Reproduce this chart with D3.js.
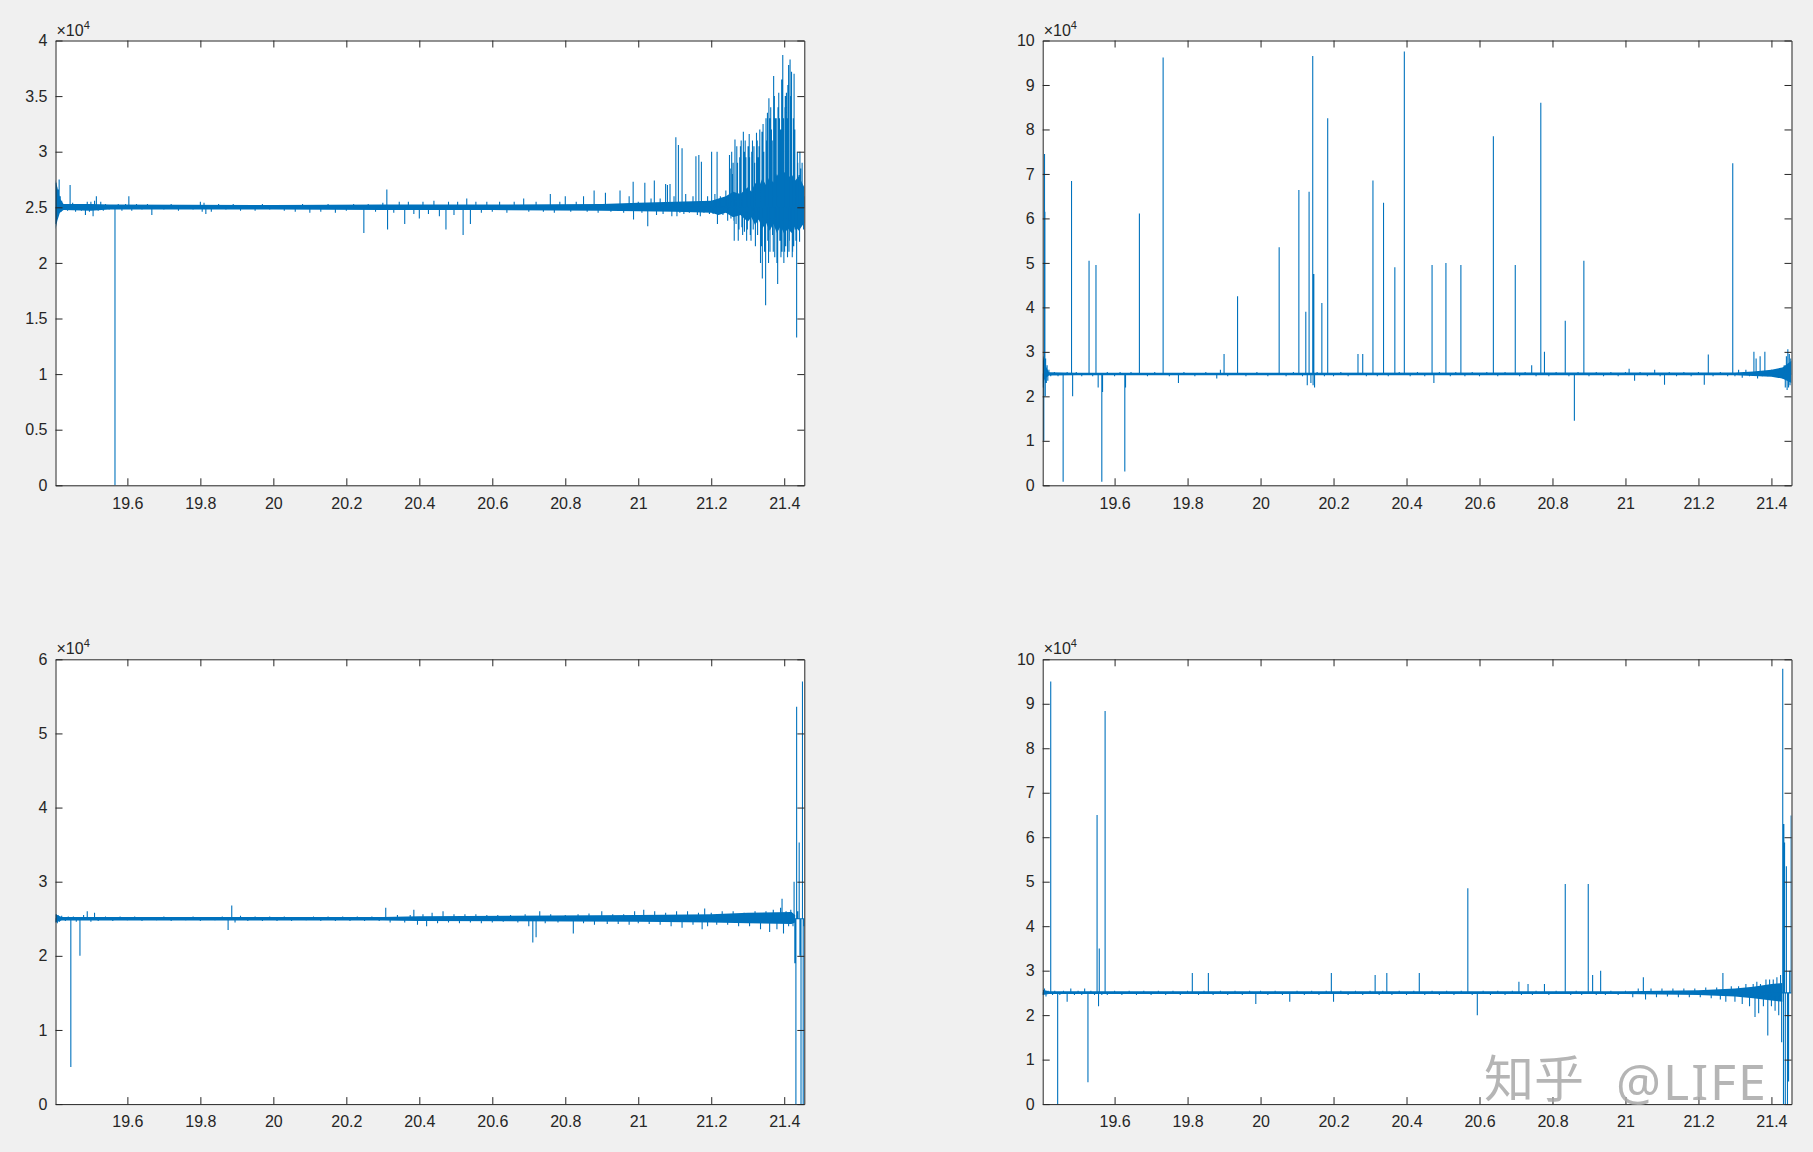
<!DOCTYPE html>
<html>
<head>
<meta charset="utf-8">
<script src="https://cdn.jsdelivr.net/npm/d3@7"></script>
<style>
  body { margin: 0; background: #f0f0f0; }
  svg { display: block; }
  .tick text { font-family: "Liberation Sans", Arial, sans-serif; font-size: 16px; fill: #262626; }
  .tick line, .domain { stroke: #262626; }
</style>
</head>
<body>
<svg id="fig" width="1813" height="1152"></svg>
<script>
// all signal values are in units of 10^4 (the axes show x10^4)
const xDomain = [19.403, 21.455];
const xTicks = [19.6, 19.8, 20, 20.2, 20.4, 20.6, 20.8, 21, 21.2, 21.4];
const baseline = 2.5;

const tlTicks = [0, 0.5, 1, 1.5, 2, 2.5, 3, 3.5, 4];
const trTicks = [0, 1, 2, 3, 4, 5, 6, 7, 8, 9, 10];
const blTicks = [0, 1, 2, 3, 4, 5, 6];
const brTicks = [0, 1, 2, 3, 4, 5, 6, 7, 8, 9, 10];

// noise envelope of the dense sampling: [time, low, high]
const tlBand = [
  [19.403, 2.3, 2.75], [19.408, 2.38, 2.68], [19.415, 2.45, 2.58], [19.425, 2.475, 2.53], [19.5, 2.47, 2.53],
  [19.55, 2.48, 2.525], [20.0, 2.48, 2.52], [20.3, 2.475, 2.525], [20.6, 2.475, 2.525], [20.9, 2.47, 2.53],
  [21.0, 2.465, 2.54], [21.1, 2.46, 2.55], [21.2, 2.45, 2.56], [21.22, 2.43, 2.58], [21.24, 2.45, 2.6],
  [21.26, 2.41, 2.64], [21.28, 2.43, 2.62], [21.3, 2.37, 2.68], [21.31, 2.41, 2.64], [21.32, 2.34, 2.72],
  [21.33, 2.39, 2.68], [21.34, 2.31, 2.76], [21.35, 2.36, 2.7], [21.36, 2.29, 2.78], [21.37, 2.35, 2.72],
  [21.38, 2.27, 2.8], [21.39, 2.33, 2.74], [21.4, 2.26, 2.82], [21.41, 2.31, 2.76], [21.42, 2.27, 2.8],
  [21.43, 2.33, 2.74], [21.44, 2.29, 2.78], [21.455, 2.36, 2.68]
];
const trBand = [
  [19.4035, 2.3, 2.9], [19.41, 2.4, 2.7], [19.42, 2.47, 2.54], [19.5, 2.475, 2.53], [21.3, 2.475, 2.535],
  [21.35, 2.46, 2.56], [21.4, 2.44, 2.6], [21.43, 2.4, 2.65], [21.455, 2.3, 2.8]
];
const blBand = [
  [19.403, 2.45, 2.56], [19.42, 2.475, 2.525], [20.3, 2.475, 2.525], [20.4, 2.47, 2.535], [21.0, 2.46, 2.55],
  [21.2, 2.45, 2.56], [21.3, 2.44, 2.58], [21.42, 2.43, 2.59], [21.43, 2.45, 2.55]
];
const brBand = [
  [19.403, 2.45, 2.57], [19.42, 2.475, 2.535], [21.0, 2.475, 2.535], [21.2, 2.45, 2.56], [21.3, 2.42, 2.6],
  [21.35, 2.38, 2.64], [21.4, 2.33, 2.7], [21.43, 2.3, 2.72]
];

// [time, value] extremes; signal sits at the baseline between them
const tlSpikes = [
  [19.403, 2.35], [19.404, 2.72], [19.405, 2.38], [19.406, 2.68], [19.407, 2.4], [19.408, 2.62], [19.409, 2.42],
  [19.41, 2.66], [19.411, 2.44], [19.413, 2.75], [19.414, 2.45], [19.416, 2.6], [19.418, 2.46], [19.42, 2.56],
  [19.428, 2.53], [19.436, 2.47], [19.443, 2.7], [19.45, 2.54], [19.458, 2.46], [19.466, 2.53], [19.474, 2.47],
  [19.485, 2.43], [19.49, 2.55], [19.496, 2.46], [19.5, 2.55], [19.506, 2.42], [19.51, 2.56], [19.515, 2.6],
  [19.52, 2.47], [19.527, 2.55], [19.534, 2.47], [19.54, 2.53], [19.55, 2.48], [19.566, 0], [19.575, 2.53],
  [19.585, 2.47], [19.595, 2.53], [19.604, 2.6], [19.612, 2.47], [19.625, 2.53], [19.64, 2.48], [19.655, 2.53],
  [19.667, 2.43], [19.68, 2.52], [19.7, 2.48], [19.72, 2.53], [19.74, 2.47], [19.76, 2.52], [19.78, 2.48],
  [19.8, 2.55], [19.805, 2.46], [19.81, 2.54], [19.815, 2.44], [19.83, 2.46], [19.85, 2.53], [19.87, 2.48],
  [19.89, 2.53], [19.91, 2.47], [19.93, 2.52], [19.95, 2.47], [19.97, 2.53], [19.99, 2.48], [20.0, 2.52],
  [20.03, 2.47], [20.06, 2.46], [20.08, 2.53], [20.1, 2.45], [20.13, 2.46], [20.15, 2.53], [20.17, 2.45],
  [20.2, 2.47], [20.22, 2.53], [20.248, 2.27], [20.26, 2.53], [20.28, 2.46], [20.3, 2.54], [20.311, 2.66],
  [20.313, 2.3], [20.33, 2.45], [20.345, 2.55], [20.36, 2.35], [20.37, 2.55], [20.385, 2.44], [20.4, 2.4],
  [20.41, 2.55], [20.425, 2.44], [20.44, 2.56], [20.455, 2.42], [20.473, 2.3], [20.48, 2.55], [20.495, 2.43],
  [20.505, 2.55], [20.52, 2.25], [20.53, 2.58], [20.54, 2.35], [20.555, 2.55], [20.57, 2.45], [20.585, 2.55],
  [20.6, 2.46], [20.62, 2.55], [20.64, 2.45], [20.66, 2.55], [20.686, 2.58], [20.7, 2.46], [20.72, 2.55],
  [20.74, 2.46], [20.759, 2.62], [20.77, 2.45], [20.785, 2.55], [20.8, 2.6], [20.815, 2.46], [20.83, 2.55],
  [20.85, 2.6], [20.86, 2.46], [20.879, 2.65], [20.89, 2.45], [20.91, 2.63], [20.925, 2.46], [20.95, 2.65],
  [20.96, 2.45], [20.975, 2.6], [20.986, 2.73], [20.987, 2.39], [21.0, 2.55], [21.01, 2.45], [21.018, 2.72],
  [21.026, 2.33], [21.035, 2.58], [21.044, 2.74], [21.05, 2.43], [21.06, 2.58], [21.068, 2.44], [21.075, 2.71],
  [21.08, 2.7], [21.087, 2.71], [21.092, 2.42], [21.098, 2.6], [21.103, 3.13], [21.106, 2.42], [21.11, 3.06],
  [21.114, 2.45], [21.12, 3.03], [21.125, 2.44], [21.13, 2.62], [21.14, 2.45], [21.15, 2.6], [21.158, 2.96],
  [21.162, 2.43], [21.166, 2.97], [21.17, 2.42], [21.173, 2.91], [21.18, 2.45], [21.19, 2.6], [21.195, 2.44],
  [21.201, 3.0], [21.205, 2.44], [21.21, 2.62], [21.216, 3.0], [21.217, 2.35], [21.225, 2.6], [21.232, 2.43],
  [21.24, 2.65], [21.245, 2.38], [21.25, 2.97], [21.254, 2.4], [21.258, 2.8], [21.262, 2.38], [21.265, 3.11],
  [21.268, 2.35], [21.272, 2.9], [21.276, 2.3], [21.28, 3.05], [21.284, 2.32], [21.288, 3.18], [21.291, 2.28],
  [21.295, 2.95], [21.299, 2.3], [21.304, 3.16], [21.307, 2.25], [21.311, 3.0], [21.315, 2.3], [21.319, 2.9],
  [21.324, 3.17], [21.327, 2.25], [21.331, 3.05], [21.335, 2.0], [21.339, 3.18], [21.34, 1.86], [21.344, 3.0],
  [21.349, 1.62], [21.352, 3.1], [21.355, 2.2], [21.358, 3.48], [21.361, 2.1], [21.365, 3.2], [21.368, 2.25],
  [21.371, 3.68], [21.374, 2.05], [21.378, 3.3], [21.382, 1.81], [21.385, 3.53], [21.388, 2.2], [21.39, 3.2],
  [21.393, 3.65], [21.394, 2.1], [21.396, 3.87], [21.399, 2.0], [21.402, 3.4], [21.404, 2.15], [21.406, 3.53],
  [21.409, 2.05], [21.412, 3.78], [21.414, 2.2], [21.416, 3.83], [21.418, 2.3], [21.42, 3.72], [21.423, 2.1],
  [21.426, 2.15], [21.427, 3.7], [21.43, 2.3], [21.434, 1.33], [21.437, 2.9], [21.441, 2.79], [21.442, 2.19],
  [21.445, 2.85], [21.447, 2.38], [21.45, 2.7], [21.453, 2.3], [21.455, 2.6],
  [21.252, 2.85], [21.256, 3.0], [21.26, 2.9], [21.263, 2.2], [21.27, 3.05], [21.274, 2.2], [21.278, 2.95],
  [21.282, 3.1], [21.286, 2.25], [21.29, 3.0], [21.293, 3.1], [21.297, 2.2], [21.301, 3.05], [21.305, 2.95],
  [21.309, 2.2], [21.313, 3.1], [21.317, 3.05], [21.321, 2.15], [21.326, 3.1], [21.329, 2.95], [21.333, 3.2],
  [21.337, 2.15], [21.342, 3.25], [21.346, 2.1], [21.35, 3.3], [21.354, 3.35], [21.357, 2.0], [21.36, 3.3],
  [21.363, 3.4], [21.367, 3.1], [21.37, 2.1], [21.373, 3.5], [21.376, 3.3], [21.38, 2.0], [21.383, 3.4],
  [21.387, 3.3], [21.391, 2.05], [21.395, 3.6], [21.398, 3.3], [21.401, 2.1], [21.403, 3.5], [21.407, 3.3],
  [21.41, 3.6], [21.413, 2.1], [21.417, 3.5], [21.419, 3.2], [21.422, 2.05], [21.425, 3.3], [21.429, 3.2],
  [21.432, 2.2], [21.436, 3.0], [21.439, 2.3], [21.443, 3.0], [21.446, 2.5], [21.449, 2.9], [21.452, 2.4]
];

const trSpikes = [
  [19.4035, 2.2], [19.405, 2.8], [19.406, 1.0], [19.407, 2.9], [19.408, 7.45], [19.409, 6.15], [19.41, 2.0],
  [19.411, 2.85], [19.413, 2.3], [19.415, 2.7], [19.417, 2.35], [19.42, 2.6], [19.425, 2.45], [19.435, 2.55],
  [19.445, 2.45], [19.459, 0.08], [19.47, 2.55], [19.482, 6.84], [19.485, 2.0], [19.495, 2.55], [19.51, 2.45],
  [19.53, 5.05], [19.54, 2.45], [19.549, 4.95], [19.555, 2.2], [19.565, 0.08], [19.567, 2.1], [19.58, 2.55],
  [19.6, 2.45], [19.615, 2.55], [19.628, 0.31], [19.63, 2.2], [19.645, 2.55], [19.668, 6.11], [19.69, 2.45],
  [19.71, 2.55], [19.733, 9.62], [19.75, 2.45], [19.775, 2.3], [19.79, 2.55], [19.82, 2.45], [19.85, 2.55],
  [19.88, 2.4], [19.89, 2.6], [19.9, 2.95], [19.91, 2.45], [19.937, 4.25], [19.96, 2.45], [19.99, 2.55],
  [20.02, 2.45], [20.051, 5.35], [20.07, 2.45], [20.09, 2.55], [20.105, 6.64], [20.115, 2.45], [20.124, 3.9],
  [20.128, 2.25], [20.133, 6.6], [20.138, 2.3], [20.143, 9.65], [20.144, 2.25], [20.146, 4.75], [20.148, 2.2],
  [20.155, 2.55], [20.168, 4.1], [20.175, 2.45], [20.184, 8.25], [20.2, 2.45], [20.22, 2.55], [20.24, 2.45],
  [20.267, 2.95], [20.28, 2.95], [20.29, 2.45], [20.308, 6.85], [20.32, 2.45], [20.337, 6.35], [20.35, 2.45],
  [20.368, 4.9], [20.38, 2.55], [20.394, 9.75], [20.41, 2.45], [20.43, 2.55], [20.45, 2.45], [20.47, 4.95],
  [20.475, 2.3], [20.49, 2.55], [20.508, 5.0], [20.52, 2.45], [20.535, 2.55], [20.549, 4.95], [20.56, 2.45],
  [20.58, 2.55], [20.6, 2.45], [20.62, 2.55], [20.638, 7.85], [20.65, 2.45], [20.67, 2.55], [20.698, 4.95],
  [20.71, 2.45], [20.725, 2.55], [20.743, 2.7], [20.755, 2.45], [20.768, 8.6], [20.778, 3.0], [20.79, 2.45],
  [20.81, 2.55], [20.835, 3.7], [20.845, 2.45], [20.86, 1.45], [20.87, 2.55], [20.886, 5.05], [20.9, 2.45],
  [20.92, 2.55], [20.94, 2.45], [20.96, 2.55], [20.98, 2.45], [21.0, 2.55], [21.01, 2.62], [21.025, 2.35],
  [21.04, 2.55], [21.06, 2.45], [21.08, 2.6], [21.095, 2.45], [21.107, 2.26], [21.12, 2.55], [21.14, 2.45],
  [21.16, 2.55], [21.18, 2.45], [21.2, 2.55], [21.216, 2.26], [21.227, 2.94], [21.24, 2.45], [21.26, 2.55],
  [21.28, 2.45], [21.294, 7.24], [21.3, 2.45], [21.31, 2.6], [21.32, 2.42], [21.33, 2.6], [21.34, 2.45],
  [21.352, 3.0], [21.358, 2.85], [21.362, 2.4], [21.369, 2.9], [21.375, 2.45], [21.382, 3.0], [21.39, 2.45],
  [21.4, 2.6], [21.41, 2.45], [21.42, 2.55], [21.43, 2.4], [21.435, 2.7], [21.438, 2.2], [21.441, 2.9],
  [21.443, 2.14], [21.445, 3.06], [21.447, 2.2], [21.449, 2.95], [21.451, 2.25], [21.453, 2.85]
];

const blSpikes = [
  [19.403, 2.45], [19.405, 2.56], [19.408, 2.44], [19.41, 2.55], [19.414, 2.46], [19.42, 2.54], [19.43, 2.47],
  [19.438, 2.53], [19.445, 0.5], [19.452, 2.53], [19.46, 2.46], [19.47, 2.0], [19.48, 2.55], [19.49, 2.6],
  [19.5, 2.46], [19.51, 2.58], [19.52, 2.47], [19.54, 2.53], [19.56, 2.47], [19.58, 2.53], [19.6, 2.48],
  [19.62, 2.53], [19.64, 2.47], [19.66, 2.52], [19.68, 2.48], [19.7, 2.53], [19.72, 2.47], [19.74, 2.52],
  [19.76, 2.48], [19.78, 2.53], [19.8, 2.47], [19.82, 2.52], [19.84, 2.48], [19.86, 2.53], [19.876, 2.35],
  [19.886, 2.68], [19.895, 2.45], [19.91, 2.54], [19.93, 2.47], [19.95, 2.53], [19.97, 2.47], [19.99, 2.53],
  [20.01, 2.47], [20.03, 2.53], [20.05, 2.47], [20.07, 2.52], [20.09, 2.48], [20.11, 2.53], [20.13, 2.47],
  [20.15, 2.53], [20.17, 2.47], [20.19, 2.53], [20.21, 2.47], [20.23, 2.53], [20.25, 2.47], [20.27, 2.53],
  [20.29, 2.47], [20.308, 2.65], [20.32, 2.45], [20.34, 2.55], [20.36, 2.45], [20.375, 2.55], [20.385, 2.62],
  [20.395, 2.42], [20.41, 2.56], [20.42, 2.4], [20.435, 2.58], [20.45, 2.44], [20.465, 2.6], [20.48, 2.45],
  [20.495, 2.56], [20.51, 2.44], [20.525, 2.56], [20.54, 2.45], [20.555, 2.56], [20.57, 2.44], [20.585, 2.55],
  [20.6, 2.45], [20.615, 2.55], [20.63, 2.46], [20.65, 2.55], [20.67, 2.45], [20.69, 2.56], [20.7, 2.4],
  [20.711, 2.18], [20.72, 2.25], [20.73, 2.6], [20.745, 2.44], [20.76, 2.56], [20.78, 2.45], [20.8, 2.55],
  [20.822, 2.3], [20.835, 2.56], [20.85, 2.44], [20.865, 2.57], [20.88, 2.42], [20.9, 2.6], [20.915, 2.43],
  [20.93, 2.56], [20.945, 2.43], [20.96, 2.56], [20.975, 2.42], [20.99, 2.6], [21.0, 2.44], [21.015, 2.62],
  [21.03, 2.43], [21.045, 2.6], [21.06, 2.42], [21.075, 2.58], [21.09, 2.4], [21.105, 2.6], [21.12, 2.38],
  [21.135, 2.6], [21.15, 2.42], [21.165, 2.58], [21.175, 2.36], [21.182, 2.64], [21.19, 2.4], [21.2, 2.58],
  [21.215, 2.42], [21.23, 2.6], [21.245, 2.42], [21.26, 2.6], [21.275, 2.4], [21.29, 2.58], [21.305, 2.4],
  [21.32, 2.6], [21.335, 2.36], [21.35, 2.6], [21.36, 2.32], [21.37, 2.62], [21.38, 2.36], [21.39, 2.65],
  [21.394, 2.77], [21.398, 2.3], [21.405, 2.6], [21.412, 2.4], [21.418, 2.62], [21.424, 2.4], [21.427, 3.0],
  [21.429, 1.9], [21.432, 0], [21.434, 5.36], [21.437, 2.6], [21.441, 3.53], [21.443, 2.0], [21.446, 0],
  [21.45, 5.7], [21.452, 0], [21.455, 2.4]
];

const brSpikes = [
  [19.403, 2.45], [19.408, 2.6], [19.412, 2.42], [19.418, 2.55], [19.425, 9.5], [19.43, 2.45], [19.436, 2.55],
  [19.444, 0], [19.45, 2.45], [19.46, 2.55], [19.47, 2.3], [19.48, 2.6], [19.49, 2.45], [19.5, 2.55],
  [19.51, 2.45], [19.518, 2.6], [19.527, 0.49], [19.535, 2.55], [19.545, 2.45], [19.552, 6.5], [19.556, 2.2],
  [19.558, 3.5], [19.565, 2.45], [19.574, 8.84], [19.58, 2.45], [19.6, 2.55], [19.62, 2.45], [19.64, 2.55],
  [19.66, 2.45], [19.68, 2.55], [19.7, 2.45], [19.72, 2.55], [19.74, 2.45], [19.76, 2.55], [19.78, 2.45],
  [19.8, 2.55], [19.813, 2.95], [19.83, 2.45], [19.845, 2.55], [19.857, 2.95], [19.87, 2.45], [19.89, 2.55],
  [19.91, 2.45], [19.93, 2.55], [19.95, 2.45], [19.97, 2.55], [19.987, 2.25], [20.0, 2.55], [20.02, 2.45],
  [20.04, 2.55], [20.06, 2.45], [20.08, 2.3], [20.1, 2.55], [20.12, 2.45], [20.14, 2.55], [20.16, 2.45],
  [20.18, 2.55], [20.194, 2.95], [20.2, 2.3], [20.22, 2.55], [20.24, 2.45], [20.26, 2.55], [20.28, 2.45],
  [20.3, 2.55], [20.314, 2.9], [20.325, 2.45], [20.335, 2.55], [20.346, 2.95], [20.36, 2.45], [20.38, 2.55],
  [20.4, 2.45], [20.42, 2.55], [20.435, 2.95], [20.45, 2.45], [20.47, 2.55], [20.49, 2.45], [20.51, 2.55],
  [20.53, 2.45], [20.55, 2.55], [20.568, 4.85], [20.58, 2.45], [20.594, 2.0], [20.61, 2.55], [20.63, 2.45],
  [20.65, 2.55], [20.67, 2.45], [20.69, 2.55], [20.708, 2.75], [20.715, 2.45], [20.733, 2.7], [20.745, 2.45],
  [20.755, 2.55], [20.778, 2.7], [20.79, 2.45], [20.81, 2.55], [20.835, 4.95], [20.85, 2.45], [20.865, 2.55],
  [20.88, 2.45], [20.898, 4.95], [20.91, 2.9], [20.92, 2.45], [20.932, 3.0], [20.945, 2.45], [20.96, 2.55],
  [20.98, 2.45], [21.0, 2.55], [21.02, 2.4], [21.035, 2.6], [21.049, 2.85], [21.055, 2.35], [21.07, 2.6],
  [21.085, 2.4], [21.1, 2.6], [21.115, 2.42], [21.13, 2.6], [21.145, 2.4], [21.16, 2.6], [21.175, 2.4],
  [21.19, 2.6], [21.205, 2.4], [21.22, 2.62], [21.235, 2.38], [21.25, 2.62], [21.26, 2.35], [21.267, 2.95],
  [21.275, 2.3], [21.29, 2.65], [21.3, 2.3], [21.31, 2.65], [21.32, 2.25], [21.33, 2.7], [21.34, 2.2],
  [21.35, 2.7], [21.355, 1.96], [21.36, 2.75], [21.365, 2.04], [21.37, 2.7], [21.378, 2.2], [21.385, 2.8],
  [21.39, 1.54], [21.395, 2.8], [21.4, 2.2], [21.405, 2.8], [21.41, 2.1], [21.415, 2.85], [21.42, 2.0],
  [21.425, 2.9], [21.428, 1.39], [21.431, 9.79], [21.433, 0], [21.434, 6.3], [21.436, 5.88], [21.438, 0],
  [21.441, 5.35], [21.444, 0], [21.447, 0.51], [21.45, 3.0], [21.454, 6.49]
];

// layout
const plotW = 748.8, plotH = 444.8;
const colX = [55.5, 1042.7];
const rowY = [40.5, 659.3];

const panels = [
  { spikes: tlSpikes, band: tlBand, ticks: tlTicks, col: 0, row: 0 },
  { spikes: trSpikes, band: trBand, ticks: trTicks, col: 1, row: 0 },
  { spikes: blSpikes, band: blBand, ticks: blTicks, col: 0, row: 1 },
  { spikes: brSpikes, band: brBand, ticks: brTicks, col: 1, row: 1 }
];

const svg = d3.select("#fig");
const fmt = d3.format("~g");
const blue = "#0072bd";

panels.forEach((p, i) => {
  const g = svg.append("g")
    .attr("transform", `translate(${colX[p.col]},${rowY[p.row]})`);

  const x = d3.scaleLinear().domain(xDomain).range([0, plotW]);
  const y = d3.scaleLinear().domain(d3.extent(p.ticks)).range([plotH, 0]);

  g.append("rect")
    .attr("width", plotW)
    .attr("height", plotH)
    .attr("fill", "#fff");

  g.append("clipPath").attr("id", "clip" + i)
    .append("rect").attr("width", plotW).attr("height", plotH);

  const plot = g.append("g").attr("clip-path", `url(#clip${i})`);

  const area = d3.area().x(d => x(d[0])).y0(d => y(d[1])).y1(d => y(d[2]));
  plot.append("path")
    .datum(p.band)
    .attr("fill", blue)
    .attr("d", area);

  // baseline -> extreme -> baseline for every sample
  const pts = [[xDomain[0], baseline]];
  p.spikes.forEach(([t, v]) => pts.push([t, baseline], [t, v], [t, baseline]));
  pts.push([xDomain[1], baseline]);

  const line = d3.line().x(d => x(d[0])).y(d => y(d[1]));
  plot.append("path")
    .datum(pts)
    .attr("fill", "none")
    .attr("stroke", blue)
    .attr("stroke-width", 1.1)
    .attr("d", line);

  g.append("g")
    .attr("transform", `translate(0,${plotH})`)
    .call(d3.axisBottom(x).tickValues(xTicks).tickFormat(fmt).tickSizeInner(-7).tickSizeOuter(0).tickPadding(12));
  g.append("g")
    .call(d3.axisTop(x).tickValues(xTicks).tickFormat("").tickSizeInner(-7).tickSizeOuter(0));
  g.append("g")
    .call(d3.axisLeft(y).tickValues(p.ticks).tickFormat(fmt).tickSizeInner(-7).tickSizeOuter(0).tickPadding(8));
  g.append("g")
    .attr("transform", `translate(${plotW},0)`)
    .call(d3.axisRight(y).tickValues(p.ticks).tickFormat("").tickSizeInner(-7).tickSizeOuter(0));

  const expo = g.append("text")
    .attr("x", 1)
    .attr("y", -5)
    .attr("font-family", "Liberation Sans, Arial, sans-serif")
    .attr("font-size", 16)
    .attr("fill", "#262626");
  expo.append("tspan").text("×10");
  expo.append("tspan").attr("font-size", 11).attr("dy", -7).text("4");
});

// watermark
const wm = svg.append("g").attr("fill", "#a8a8a8").attr("fill-opacity", 0.85);
wm.append("text")
  .attr("x", 1484).attr("y", 1097)
  .attr("font-family", "Noto Sans CJK SC, sans-serif")
  .attr("font-size", 50)
  .text("知乎");
wm.append("text")
  .attr("x", 1616).attr("y", 1100)
  .attr("font-family", "Noto Sans, sans-serif")
  .attr("font-size", 50)
  .attr("letter-spacing", 2)
  .text("@LIFE");
</script>
</body>
</html>
